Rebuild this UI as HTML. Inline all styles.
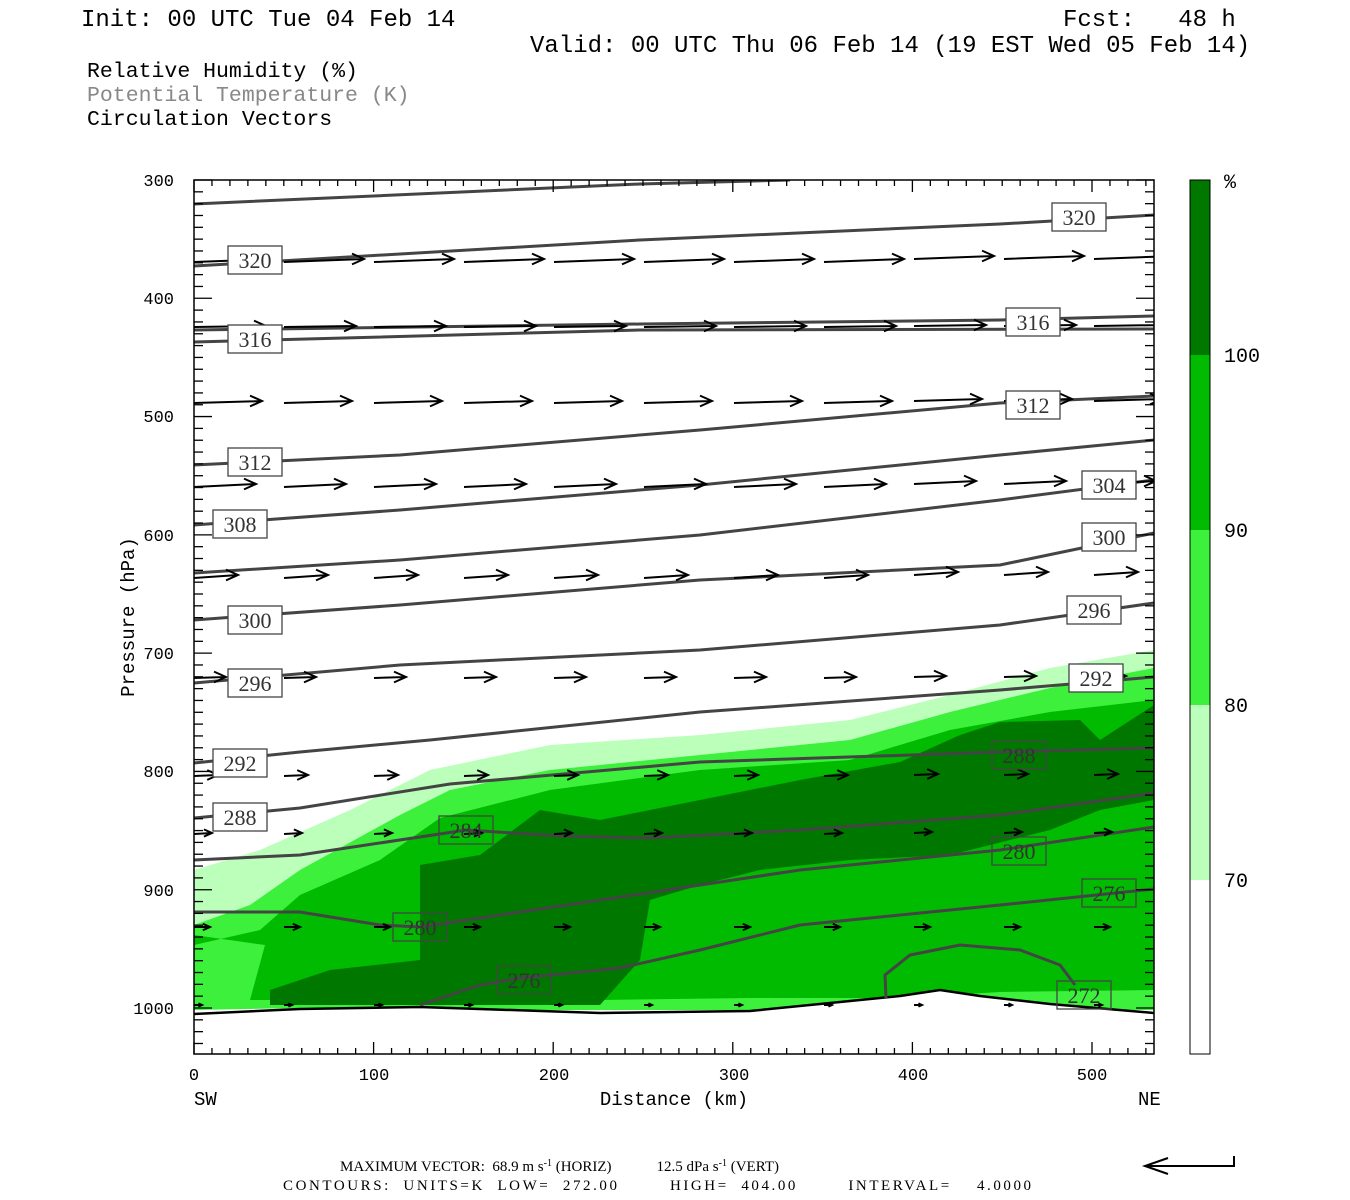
<!DOCTYPE html>
<html><head><meta charset="utf-8"><style>
body{margin:0;background:#fff;width:1350px;height:1200px;overflow:hidden}
svg{display:block}
.m{font-family:"Liberation Mono",monospace}
.s{font-family:"Liberation Serif",serif}
.pre{white-space:pre}
</style></head><body>
<svg id="s" width="1350" height="1200" xmlns="http://www.w3.org/2000/svg">
<defs><clipPath id="c"><rect x="194" y="180" width="960" height="874"/></clipPath></defs>
<text x="81" y="26" class="m pre" font-size="24">Init: 00 UTC Tue 04 Feb 14</text>
<text x="1063" y="26" class="m pre" font-size="24">Fcst:   48 h</text>
<text x="530" y="52" class="m pre" font-size="24">Valid: 00 UTC Thu 06 Feb 14 (19 EST Wed 05 Feb 14)</text>
<text x="87" y="77" class="m" font-size="21.5">Relative Humidity (%)</text>
<text x="87" y="101" class="m" font-size="21.5" fill="#888">Potential Temperature (K)</text>
<text x="87" y="125" class="m" font-size="21.5">Circulation Vectors</text>
<g clip-path="url(#c)">
<polygon fill="#bbffbb" points="194,870 260,850 350,810 430,770 550,745 700,735 850,720 950,695 1050,668 1154,650 1154,1010 194,1010"/>
<polygon fill="#3cf03c" points="194,925 250,905 300,870 400,815 450,790 550,770 700,755 850,740 950,712 1050,688 1154,668 1154,1010 194,1010"/>
<polygon fill="#00bb00" points="194,945 260,930 300,895 380,860 440,818 550,790 700,770 850,760 950,730 1050,712 1154,700 1154,990 1000,992 900,998 750,998 600,1000 250,1000 265,945 194,935"/>
<polygon fill="#007800" points="270,1005 270,990 330,970 420,960 420,865 480,855 540,810 600,820 700,800 800,780 900,762 960,735 1000,722 1080,720 1100,740 1154,705 1154,800 1100,810 1050,830 950,855 850,860 760,870 700,885 650,900 640,960 600,1005"/>
<path d="M194,1010 L300,1008 L420,1006 L600,1012 L750,1010 L850,1000 L900,995 L940,990 L980,995 L1050,1003 L1154,1012 L1154,1060 L194,1060Z" fill="#fff"/>
<polyline fill="none" stroke="#000" stroke-width="2.5" points="194,1014 300,1009 420,1007 600,1013 750,1011 850,1001 900,996 940,990 980,996 1050,1004 1154,1013"/>
<g fill="none" stroke="#444" stroke-width="3">
<polyline points="194,204 640,184 790,180"/>
<polyline points="194,266 640,240 1000,224 1154,215"/>
<polyline points="194,330 640,324 1000,320 1154,316"/>
<polyline points="194,342 640,330 1154,329"/>
<polyline points="194,465 400,455 700,430 1000,403 1154,396"/>
<polyline points="194,525 400,510 700,485 1000,455 1154,440"/>
<polyline points="194,573 400,560 700,535 1000,500 1154,480"/>
<polyline points="194,620 400,605 700,580 1000,565 1154,533"/>
<polyline points="194,683 400,665 700,650 1000,625 1154,603"/>
<polyline points="194,763 300,752 430,740 700,712 1000,690 1154,677"/>
<polyline points="194,818 300,808 450,784 700,762 1000,752 1154,748"/>
<polyline points="194,860 300,855 466,830 560,836 650,838 800,830 1000,815 1154,793"/>
<polyline points="194,912 300,912 380,925 420,927 600,900 800,870 1000,850 1154,827"/>
<polyline points="420,1005 480,985 520,978 620,968 700,950 800,925 1000,905 1154,889"/>
<polyline points="886,998 885,975 910,955 960,945 1020,950 1060,965 1075,985"/>
</g>
<g id="arr" stroke="#000" stroke-width="2" fill="none"></g>
</g>
<g id="lab" class="s" font-size="22" fill="#333"></g>
<rect x="194" y="180" width="960" height="874" fill="none" stroke="#000" stroke-width="1.5"/>
<g id="tk" stroke="#000" stroke-width="1.3"></g>
<g class="m" font-size="17" text-anchor="end">
<text x="174" y="186">300</text><text x="174" y="304">400</text><text x="174" y="422">500</text><text x="174" y="541">600</text><text x="174" y="659">700</text><text x="174" y="777">800</text><text x="174" y="896">900</text><text x="174" y="1014">1000</text>
</g>
<g class="m" font-size="17" text-anchor="middle">
<text x="194" y="1080">0</text><text x="374" y="1080">100</text><text x="554" y="1080">200</text><text x="734" y="1080">300</text><text x="913" y="1080">400</text><text x="1092" y="1080">500</text>
</g>
<text x="194" y="1105" class="m" font-size="19">SW</text>
<text x="1138" y="1105" class="m" font-size="19">NE</text>
<text x="674" y="1105" class="m" font-size="19" text-anchor="middle">Distance (km)</text>
<text transform="translate(134,617) rotate(-90)" class="m" font-size="19" text-anchor="middle">Pressure (hPa)</text>
<rect x="1190" y="180" width="20" height="175" fill="#007800"/>
<rect x="1190" y="355" width="20" height="175" fill="#00bb00"/>
<rect x="1190" y="530" width="20" height="175" fill="#3cf03c"/>
<rect x="1190" y="705" width="20" height="175" fill="#bbffbb"/>
<rect x="1190" y="180" width="20" height="874" fill="none" stroke="#000"/>
<g class="m" font-size="20"><text x="1224" y="188">%</text><text x="1224" y="362">100</text><text x="1224" y="537">90</text><text x="1224" y="712">80</text><text x="1224" y="887">70</text></g>
<text x="340" y="1171" class="s pre" font-size="15">MAXIMUM VECTOR:  68.9 m s<tspan dy="-5" font-size="10">-1</tspan><tspan dy="5"> (HORIZ)            12.5 dPa s</tspan><tspan dy="-5" font-size="10">-1</tspan><tspan dy="5"> (VERT)</tspan></text>
<text x="283" y="1190" class="s pre" font-size="15" textLength="748" lengthAdjust="spacing">CONTOURS:  UNITS=K  LOW=  272.00        HIGH=  404.00        INTERVAL=    4.0000</text>
<g stroke="#000" stroke-width="2" fill="none"><path d="M1234,1156 L1234,1166 L1145,1166 M1168,1158 L1145,1166 L1168,1174"/></g>
</svg>
<script>
var NS="http://www.w3.org/2000/svg";
function el(p,t,a,txt){var e=document.createElementNS(NS,t);for(var k in a)e.setAttribute(k,a[k]);if(txt)e.textContent=txt;p.appendChild(e);return e;}
var arr=document.getElementById('arr');
var rows=[[262,80,3],[327,72,1],[403,68,2],[487,62,3],[578,44,3],[678,32,1],[776,24,1],[834,18,1],[927,16,0],[1005,8,0]];
rows.forEach(function(r){for(var i=0;i<11;i++){var x=194+i*90;var y=r[0]-(i>=8?r[2]:0);var L=r[1];var x2=x+L;var y2=y-r[2];
var h=Math.min(12,L*0.45);
el(arr,'path',{d:'M'+x+','+y+' L'+x2+','+y2+' M'+(x2-h)+','+(y2-h*0.45)+' L'+x2+','+y2+' L'+(x2-h)+','+(y2+h*0.45)});}});
var lab=document.getElementById('lab');
[[255,260,'320'],[1079,217,'320'],[255,339,'316'],[1033,322,'316'],[1033,405,'312'],[255,462,'312'],[240,524,'308'],[1109,485,'304'],[1109,537,'300'],[255,620,'300'],[1094,610,'296'],[255,683,'296'],[1096,678,'292'],[240,763,'292'],[240,817,'288'],[1019,755,'288'],[466,830,'284'],[1019,851,'280'],[420,927,'280'],[1109,893,'276'],[524,980,'276'],[1084,995,'272']].forEach(function(l){
var inG=l[1]>700&&l[0]>400;
el(lab,'rect',{x:l[0]-27,y:l[1]-14,width:54,height:28,fill:inG?'none':'#fff',stroke:'#444','stroke-width':1.3});
el(lab,'text',{x:l[0],y:l[1]+8,'text-anchor':'middle'},l[2]);});
var tk=document.getElementById('tk');
for(var p=300;p<=1030;p+=10){var y=180+(p-300)*828/700;var L=(p%100==0)?18:9;el(tk,'line',{x1:194,y1:y,x2:194+L,y2:y});el(tk,'line',{x1:1154,y1:y,x2:1154-L,y2:y});}
for(var d=0;d<=530;d+=10){var x=194+d*1.796;var L=(d%100==0)?12:6;el(tk,'line',{x1:x,y1:1054,x2:x,y2:1054-L});el(tk,'line',{x1:x,y1:180,x2:x,y2:180+L});}
</script>
</body></html>
